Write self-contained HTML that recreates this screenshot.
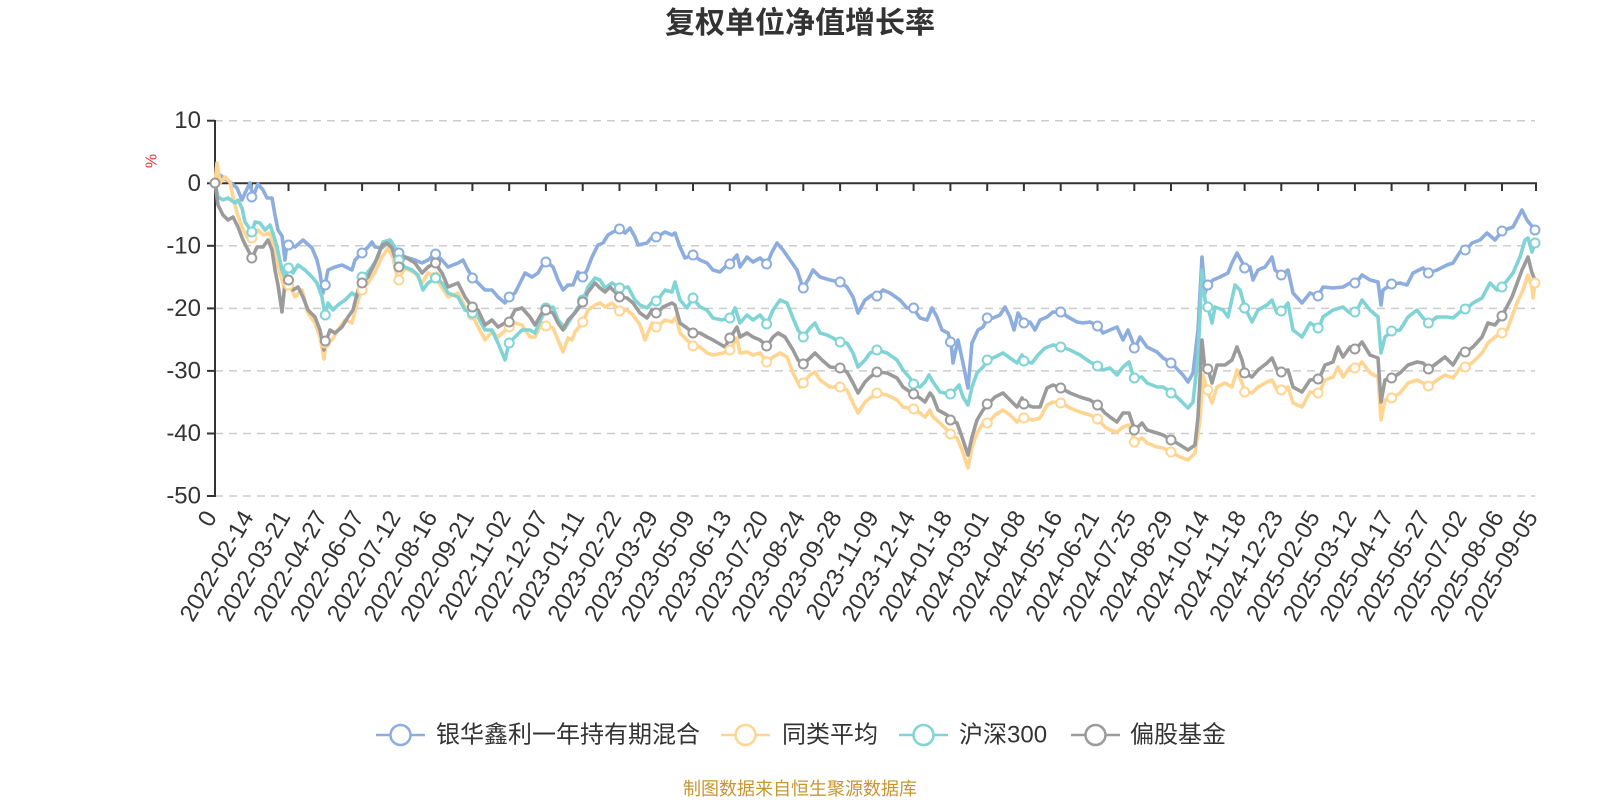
<!DOCTYPE html>
<html><head><meta charset="utf-8"><style>
html,body{margin:0;padding:0;background:#fff;}
svg{display:block;}
text{font-family:"Liberation Sans","Noto Sans CJK SC",sans-serif;}
</style></head><body>
<svg width="1600" height="800" viewBox="0 0 1600 800" xmlns="http://www.w3.org/2000/svg">
<rect width="1600" height="800" fill="#fff"/>
<text x="800" y="33" text-anchor="middle" font-size="30" font-weight="bold" fill="#333" style="font-family:'Noto Sans CJK SC','Liberation Sans',sans-serif">复权单位净值增长率</text>
<g stroke="#cccccc" stroke-width="1.5" stroke-dasharray="8,6">
<line x1="215" y1="120.7" x2="1535" y2="120.7"/>
<line x1="215" y1="245.8" x2="1535" y2="245.8"/>
<line x1="215" y1="308.4" x2="1535" y2="308.4"/>
<line x1="215" y1="370.9" x2="1535" y2="370.9"/>
<line x1="215" y1="433.5" x2="1535" y2="433.5"/>
<line x1="215" y1="496" x2="1535" y2="496"/>
</g>
<g fill="#333" font-size="24" text-anchor="end" dominant-baseline="central">
<text x="201" y="120.7">10</text>
<text x="201" y="183.3">0</text>
<text x="201" y="245.8">-10</text>
<text x="201" y="308.4">-20</text>
<text x="201" y="370.9">-30</text>
<text x="201" y="433.5">-40</text>
<text x="201" y="496">-50</text>
</g>
<text transform="translate(152,161) rotate(-90)" font-size="16" fill="#e53935" text-anchor="middle" dominant-baseline="central">%</text>
<g stroke="#333" stroke-width="2">
<line x1="215" y1="120" x2="215" y2="497"/>
<line x1="207" y1="120.7" x2="215" y2="120.7"/>
<line x1="207" y1="183.3" x2="215" y2="183.3"/>
<line x1="207" y1="245.8" x2="215" y2="245.8"/>
<line x1="207" y1="308.4" x2="215" y2="308.4"/>
<line x1="207" y1="370.9" x2="215" y2="370.9"/>
<line x1="207" y1="433.5" x2="215" y2="433.5"/>
<line x1="207" y1="496" x2="215" y2="496"/>
<line x1="214" y1="183.3" x2="1537" y2="183.3"/>
</g>
<g stroke="#333" stroke-width="2">
<line x1="251.8" y1="183" x2="251.8" y2="191"/><line x1="288.5" y1="183" x2="288.5" y2="191"/><line x1="325.3" y1="183" x2="325.3" y2="191"/><line x1="362.1" y1="183" x2="362.1" y2="191"/><line x1="398.9" y1="183" x2="398.9" y2="191"/><line x1="435.6" y1="183" x2="435.6" y2="191"/><line x1="472.4" y1="183" x2="472.4" y2="191"/><line x1="509.2" y1="183" x2="509.2" y2="191"/><line x1="545.9" y1="183" x2="545.9" y2="191"/><line x1="582.7" y1="183" x2="582.7" y2="191"/><line x1="619.5" y1="183" x2="619.5" y2="191"/><line x1="656.2" y1="183" x2="656.2" y2="191"/><line x1="693" y1="183" x2="693" y2="191"/><line x1="729.8" y1="183" x2="729.8" y2="191"/><line x1="766.6" y1="183" x2="766.6" y2="191"/><line x1="803.3" y1="183" x2="803.3" y2="191"/><line x1="840.1" y1="183" x2="840.1" y2="191"/><line x1="876.9" y1="183" x2="876.9" y2="191"/><line x1="913.6" y1="183" x2="913.6" y2="191"/><line x1="950.4" y1="183" x2="950.4" y2="191"/><line x1="987.2" y1="183" x2="987.2" y2="191"/><line x1="1023.9" y1="183" x2="1023.9" y2="191"/><line x1="1060.7" y1="183" x2="1060.7" y2="191"/><line x1="1097.5" y1="183" x2="1097.5" y2="191"/><line x1="1134.3" y1="183" x2="1134.3" y2="191"/><line x1="1171" y1="183" x2="1171" y2="191"/><line x1="1207.8" y1="183" x2="1207.8" y2="191"/><line x1="1244.6" y1="183" x2="1244.6" y2="191"/><line x1="1281.3" y1="183" x2="1281.3" y2="191"/><line x1="1318.1" y1="183" x2="1318.1" y2="191"/><line x1="1354.9" y1="183" x2="1354.9" y2="191"/><line x1="1391.6" y1="183" x2="1391.6" y2="191"/><line x1="1428.4" y1="183" x2="1428.4" y2="191"/><line x1="1465.2" y1="183" x2="1465.2" y2="191"/><line x1="1502" y1="183" x2="1502" y2="191"/><line x1="1536" y1="183" x2="1536" y2="191"/>
</g>
<g fill="#333" font-size="24" text-anchor="end" dominant-baseline="central">
<text transform="translate(211,513) rotate(-60)">0</text>
<text transform="translate(247.8,513) rotate(-60)">2022-02-14</text>
<text transform="translate(284.5,513) rotate(-60)">2022-03-21</text>
<text transform="translate(321.3,513) rotate(-60)">2022-04-27</text>
<text transform="translate(358.1,513) rotate(-60)">2022-06-07</text>
<text transform="translate(394.9,513) rotate(-60)">2022-07-12</text>
<text transform="translate(431.6,513) rotate(-60)">2022-08-16</text>
<text transform="translate(468.4,513) rotate(-60)">2022-09-21</text>
<text transform="translate(505.2,513) rotate(-60)">2022-11-02</text>
<text transform="translate(541.9,513) rotate(-60)">2022-12-07</text>
<text transform="translate(578.7,513) rotate(-60)">2023-01-11</text>
<text transform="translate(615.5,513) rotate(-60)">2023-02-22</text>
<text transform="translate(652.2,513) rotate(-60)">2023-03-29</text>
<text transform="translate(689,513) rotate(-60)">2023-05-09</text>
<text transform="translate(725.8,513) rotate(-60)">2023-06-13</text>
<text transform="translate(762.6,513) rotate(-60)">2023-07-20</text>
<text transform="translate(799.3,513) rotate(-60)">2023-08-24</text>
<text transform="translate(836.1,513) rotate(-60)">2023-09-28</text>
<text transform="translate(872.9,513) rotate(-60)">2023-11-09</text>
<text transform="translate(909.6,513) rotate(-60)">2023-12-14</text>
<text transform="translate(946.4,513) rotate(-60)">2024-01-18</text>
<text transform="translate(983.2,513) rotate(-60)">2024-03-01</text>
<text transform="translate(1019.9,513) rotate(-60)">2024-04-08</text>
<text transform="translate(1056.7,513) rotate(-60)">2024-05-16</text>
<text transform="translate(1093.5,513) rotate(-60)">2024-06-21</text>
<text transform="translate(1130.3,513) rotate(-60)">2024-07-25</text>
<text transform="translate(1167,513) rotate(-60)">2024-08-29</text>
<text transform="translate(1203.8,513) rotate(-60)">2024-10-14</text>
<text transform="translate(1240.6,513) rotate(-60)">2024-11-18</text>
<text transform="translate(1277.3,513) rotate(-60)">2024-12-23</text>
<text transform="translate(1314.1,513) rotate(-60)">2025-02-05</text>
<text transform="translate(1350.9,513) rotate(-60)">2025-03-12</text>
<text transform="translate(1387.6,513) rotate(-60)">2025-04-17</text>
<text transform="translate(1424.4,513) rotate(-60)">2025-05-27</text>
<text transform="translate(1461.2,513) rotate(-60)">2025-07-02</text>
<text transform="translate(1498,513) rotate(-60)">2025-08-06</text>
<text transform="translate(1532,513) rotate(-60)">2025-09-05</text>
</g>
<g fill="none" stroke-width="3.6" stroke-linejoin="round" stroke-linecap="round">
<polyline stroke="#8caddd" points="215,182 220,175 225,179 230,182 237,188 242,200 245,193 250,183 253,197 258,184 263,190 267,198 272,198 275,215 278,230 282,236 285,260 287,243 290,245 295,247 303,240 312,248 317,260 320,273 323,293 325,285 328,270 335,267 342,265 352,270 355,260 362,253 368,247 372,242 375,247 382,248 388,242 392,243 398,253 405,257 415,260 422,263 428,260 435,254 442,260 448,267 458,263 463,260 468,270 473,278 478,283 485,290 492,290 498,297 505,303 509,297 515,293 520,283 525,273 532,277 538,273 542,266 547,262 553,267 558,280 563,290 568,285 573,285 578,272 583,277 587,270 592,257 598,245 603,243 608,235 613,232 620,229 625,233 630,228 635,237 638,245 647,243 652,237 657,237 665,232 672,235 675,233 680,247 685,258 693,255 700,260 707,263 713,270 720,272 725,267 730,264 737,255 740,267 747,257 753,262 760,258 767,264 772,252 777,243 783,250 790,260 797,270 803,288 808,280 813,270 820,277 830,280 840,282 847,287 853,297 858,313 865,300 872,295 877,296 883,290 890,293 900,300 907,308 913,308 920,318 927,320 932,308 937,317 942,330 948,333 951,342 953,363 958,340 963,363 968,388 972,343 978,330 983,327 988,318 993,318 1000,315 1005,307 1010,317 1014,330 1018,313 1024,323 1030,322 1035,330 1040,320 1047,317 1053,312 1061,312 1068,317 1077,322 1083,323 1090,322 1098,326 1103,333 1110,330 1117,327 1123,340 1128,330 1135,348 1140,337 1147,347 1157,352 1163,358 1172,363 1178,370 1183,375 1188,382 1193,373 1198,330 1202,257 1205,293 1208,285 1213,280 1220,277 1228,273 1232,263 1237,253 1242,262 1245,268 1250,267 1253,280 1258,270 1265,267 1272,257 1275,270 1282,275 1288,270 1293,293 1302,303 1310,293 1318,296 1323,287 1333,288 1343,287 1350,283 1356,283 1362,275 1370,280 1378,282 1381,305 1383,290 1392,284 1400,283 1407,285 1413,273 1423,268 1429,273 1437,270 1447,265 1453,263 1460,252 1466,250 1472,243 1480,240 1487,233 1495,240 1502,231 1513,227 1522,210 1527,220 1535,230"/>
<polyline stroke="#ffd591" points="215,183 217,163 220,183 225,177 230,182 233,197 237,213 242,227 247,237 252,238 258,230 263,235 270,233 277,263 285,290 289,283 295,297 302,290 308,313 315,323 320,337 324,359 326,343 332,340 338,330 345,320 352,323 358,300 362,290 368,283 375,272 382,257 388,248 393,258 398,280 405,268 415,273 422,283 428,273 435,277 448,297 458,293 465,307 472,315 485,340 492,332 498,337 509,327 515,323 522,325 530,337 535,337 542,323 546,326 553,328 558,340 563,352 568,338 572,340 575,332 583,322 588,310 595,305 600,303 605,307 612,303 620,311 627,310 633,315 640,325 645,340 652,323 657,327 665,320 672,322 676,317 680,333 687,340 693,346 700,347 707,353 713,355 723,353 730,350 737,338 740,353 747,352 753,355 760,353 767,362 773,357 780,353 787,357 793,373 800,387 803,383 810,375 815,372 820,380 830,387 840,387 847,390 853,403 858,413 865,402 870,398 877,393 887,395 897,400 903,407 913,409 920,413 925,417 930,410 933,417 940,423 951,434 957,438 962,450 968,468 972,447 977,433 983,423 988,423 995,415 1003,410 1010,415 1017,422 1022,417 1024,418 1033,420 1040,418 1047,405 1053,402 1061,403 1070,408 1080,412 1090,415 1098,419 1105,427 1110,430 1117,432 1123,427 1129,425 1132,433 1135,442 1142,438 1147,443 1157,447 1163,448 1172,452 1180,457 1188,460 1195,453 1200,420 1203,375 1207,390 1212,403 1217,387 1225,383 1232,387 1237,370 1242,383 1245,392 1252,393 1258,387 1267,382 1272,380 1277,390 1282,390 1288,387 1293,403 1302,407 1310,392 1319,393 1325,380 1333,377 1338,367 1343,377 1350,367 1356,368 1362,362 1370,373 1378,377 1381,420 1385,400 1392,398 1400,393 1408,383 1417,380 1423,383 1429,386 1437,380 1445,375 1453,378 1460,368 1466,367 1473,362 1482,353 1488,343 1495,337 1502,333 1507,330 1517,303 1523,290 1528,275 1532,287 1533,298 1535,283"/>
<polyline stroke="#80d4d6" points="215,183 218,197 223,200 228,198 235,203 238,200 242,208 245,222 252,232 255,222 260,223 265,230 270,225 273,233 277,247 282,270 285,277 289,268 293,273 298,265 305,270 312,277 317,283 322,297 325,315 328,303 333,310 338,305 345,300 352,293 357,297 362,277 367,273 372,267 378,257 383,242 390,240 397,250 399,260 405,267 412,270 418,275 423,290 428,283 436,278 442,283 448,293 458,297 465,310 472,313 478,317 485,330 492,330 498,343 505,360 509,343 515,337 522,330 530,330 535,333 542,317 547,308 553,307 558,320 565,328 570,320 578,307 583,300 588,287 595,278 600,280 605,288 612,283 620,288 628,287 635,300 640,305 647,308 652,302 657,301 665,290 672,292 675,282 680,300 687,308 693,298 700,307 707,310 713,318 722,320 730,318 735,308 740,323 747,315 753,320 760,315 767,324 773,310 780,300 787,303 793,318 798,330 803,337 810,328 815,323 820,333 827,335 833,338 840,342 847,343 853,353 858,367 865,360 870,353 877,350 887,353 897,360 903,370 910,378 913,384 920,387 925,382 929,375 933,382 940,392 950,394 955,390 959,385 963,397 968,405 972,387 977,373 983,367 988,360 995,357 1003,353 1010,358 1017,363 1022,355 1024,361 1032,363 1038,355 1045,348 1053,345 1062,347 1070,350 1080,355 1090,362 1098,366 1103,370 1110,368 1117,375 1123,367 1129,362 1132,372 1135,378 1142,377 1147,383 1157,387 1163,387 1172,393 1178,398 1188,408 1193,402 1198,357 1202,270 1205,300 1208,307 1212,323 1215,307 1223,310 1228,317 1235,285 1240,290 1245,308 1252,322 1258,310 1267,305 1272,300 1277,313 1282,311 1288,303 1293,330 1302,337 1310,323 1319,328 1323,317 1333,310 1343,307 1350,313 1356,312 1362,300 1370,310 1378,317 1381,353 1385,337 1392,331 1400,330 1408,317 1417,310 1423,318 1429,323 1437,317 1447,317 1453,318 1460,312 1466,309 1473,303 1482,298 1490,283 1497,290 1502,287 1513,273 1520,257 1525,240 1528,238 1532,252 1535,243"/>
<polyline stroke="#9b9b9b" points="215,183 218,205 223,215 228,220 233,217 238,227 243,240 247,248 252,258 257,247 263,247 268,240 272,250 275,270 278,285 282,312 285,283 289,280 293,290 298,287 303,297 308,310 315,317 320,330 324,350 326,341 330,330 335,333 342,327 348,317 353,310 358,290 362,283 368,277 375,263 382,245 387,243 392,248 398,267 405,257 415,263 422,273 428,267 435,263 442,273 448,287 458,283 465,297 472,307 478,310 485,325 492,320 498,327 505,323 509,322 515,310 522,308 530,317 535,325 542,313 546,310 553,313 558,323 563,330 568,320 575,313 583,302 588,292 595,283 600,288 605,292 610,287 620,297 627,298 633,303 640,313 647,318 652,310 657,313 663,307 672,303 675,305 680,323 687,328 693,333 700,333 707,337 713,340 725,347 730,338 737,327 740,337 747,333 753,337 760,340 767,346 773,337 778,333 785,337 793,350 798,360 803,364 810,358 815,353 822,360 830,367 840,368 847,372 853,383 858,393 865,382 870,377 877,372 887,373 897,378 903,387 913,394 920,398 925,402 930,393 933,397 938,410 947,415 951,420 957,423 962,437 968,455 972,437 977,420 983,410 988,404 995,397 1003,393 1010,400 1017,407 1022,398 1024,404 1033,407 1040,407 1047,388 1053,385 1061,388 1070,393 1080,397 1090,400 1098,405 1105,413 1110,417 1117,422 1123,413 1129,413 1132,422 1135,430 1142,423 1147,430 1157,433 1163,435 1172,440 1180,445 1188,450 1195,445 1198,417 1202,340 1205,370 1208,369 1212,383 1217,365 1225,365 1232,360 1237,347 1242,360 1245,373 1252,377 1258,370 1267,363 1272,358 1277,370 1282,372 1288,370 1293,387 1302,392 1310,380 1319,379 1325,365 1333,362 1338,347 1343,357 1350,347 1356,349 1362,342 1370,355 1378,358 1381,402 1385,380 1392,378 1400,373 1408,365 1417,362 1423,363 1429,369 1437,363 1445,357 1453,365 1460,353 1466,352 1473,347 1482,337 1488,323 1495,325 1502,316 1512,297 1522,270 1528,257 1532,273 1535,280"/>
</g>
<g fill="#fff" stroke-width="2">
<g stroke="#8caddd">
<circle cx="251.8" cy="197" r="4.5"/><circle cx="288.5" cy="245" r="4.5"/><circle cx="325.3" cy="285" r="4.5"/><circle cx="362.1" cy="253" r="4.5"/><circle cx="398.9" cy="253" r="4.5"/><circle cx="435.6" cy="254" r="4.5"/><circle cx="472.4" cy="278" r="4.5"/><circle cx="509.2" cy="297" r="4.5"/><circle cx="545.9" cy="262" r="4.5"/><circle cx="582.7" cy="277" r="4.5"/><circle cx="619.5" cy="229" r="4.5"/><circle cx="656.2" cy="237" r="4.5"/><circle cx="693" cy="255" r="4.5"/><circle cx="729.8" cy="264" r="4.5"/><circle cx="766.6" cy="264" r="4.5"/><circle cx="803.3" cy="288" r="4.5"/><circle cx="840.1" cy="282" r="4.5"/><circle cx="876.9" cy="296" r="4.5"/><circle cx="913.6" cy="308" r="4.5"/><circle cx="950.4" cy="342" r="4.5"/><circle cx="987.2" cy="318" r="4.5"/><circle cx="1023.9" cy="323" r="4.5"/><circle cx="1060.7" cy="312" r="4.5"/><circle cx="1097.5" cy="326" r="4.5"/><circle cx="1134.3" cy="348" r="4.5"/><circle cx="1171" cy="363" r="4.5"/><circle cx="1207.8" cy="285" r="4.5"/><circle cx="1244.6" cy="268" r="4.5"/><circle cx="1281.3" cy="275" r="4.5"/><circle cx="1318.1" cy="296" r="4.5"/><circle cx="1354.9" cy="283" r="4.5"/><circle cx="1391.6" cy="284" r="4.5"/><circle cx="1428.4" cy="273" r="4.5"/><circle cx="1465.2" cy="250" r="4.5"/><circle cx="1502" cy="231" r="4.5"/><circle cx="1535" cy="230" r="4.5"/>
</g>
<g stroke="#ffd591">
<circle cx="251.8" cy="238" r="4.5"/><circle cx="288.5" cy="285" r="4.5"/><circle cx="325.3" cy="343" r="4.5"/><circle cx="362.1" cy="290" r="4.5"/><circle cx="398.9" cy="280" r="4.5"/><circle cx="435.6" cy="277" r="4.5"/><circle cx="472.4" cy="315" r="4.5"/><circle cx="509.2" cy="327" r="4.5"/><circle cx="545.9" cy="326" r="4.5"/><circle cx="582.7" cy="322" r="4.5"/><circle cx="619.5" cy="311" r="4.5"/><circle cx="656.2" cy="327" r="4.5"/><circle cx="693" cy="346" r="4.5"/><circle cx="729.8" cy="350" r="4.5"/><circle cx="766.6" cy="362" r="4.5"/><circle cx="803.3" cy="383" r="4.5"/><circle cx="840.1" cy="387" r="4.5"/><circle cx="876.9" cy="393" r="4.5"/><circle cx="913.6" cy="409" r="4.5"/><circle cx="950.4" cy="434" r="4.5"/><circle cx="987.2" cy="423" r="4.5"/><circle cx="1023.9" cy="418" r="4.5"/><circle cx="1060.7" cy="403" r="4.5"/><circle cx="1097.5" cy="419" r="4.5"/><circle cx="1134.3" cy="442" r="4.5"/><circle cx="1171" cy="452" r="4.5"/><circle cx="1207.8" cy="390" r="4.5"/><circle cx="1244.6" cy="392" r="4.5"/><circle cx="1281.3" cy="390" r="4.5"/><circle cx="1318.1" cy="393" r="4.5"/><circle cx="1354.9" cy="368" r="4.5"/><circle cx="1391.6" cy="398" r="4.5"/><circle cx="1428.4" cy="386" r="4.5"/><circle cx="1465.2" cy="367" r="4.5"/><circle cx="1502" cy="333" r="4.5"/><circle cx="1535" cy="283" r="4.5"/>
</g>
<g stroke="#80d4d6">
<circle cx="251.8" cy="232" r="4.5"/><circle cx="288.5" cy="268" r="4.5"/><circle cx="325.3" cy="315" r="4.5"/><circle cx="362.1" cy="277" r="4.5"/><circle cx="398.9" cy="260" r="4.5"/><circle cx="435.6" cy="278" r="4.5"/><circle cx="472.4" cy="313" r="4.5"/><circle cx="509.2" cy="343" r="4.5"/><circle cx="545.9" cy="308" r="4.5"/><circle cx="582.7" cy="300" r="4.5"/><circle cx="619.5" cy="288" r="4.5"/><circle cx="656.2" cy="301" r="4.5"/><circle cx="693" cy="298" r="4.5"/><circle cx="729.8" cy="318" r="4.5"/><circle cx="766.6" cy="324" r="4.5"/><circle cx="803.3" cy="337" r="4.5"/><circle cx="840.1" cy="342" r="4.5"/><circle cx="876.9" cy="350" r="4.5"/><circle cx="913.6" cy="384" r="4.5"/><circle cx="950.4" cy="394" r="4.5"/><circle cx="987.2" cy="360" r="4.5"/><circle cx="1023.9" cy="361" r="4.5"/><circle cx="1060.7" cy="347" r="4.5"/><circle cx="1097.5" cy="366" r="4.5"/><circle cx="1134.3" cy="378" r="4.5"/><circle cx="1171" cy="393" r="4.5"/><circle cx="1207.8" cy="307" r="4.5"/><circle cx="1244.6" cy="308" r="4.5"/><circle cx="1281.3" cy="311" r="4.5"/><circle cx="1318.1" cy="328" r="4.5"/><circle cx="1354.9" cy="312" r="4.5"/><circle cx="1391.6" cy="331" r="4.5"/><circle cx="1428.4" cy="323" r="4.5"/><circle cx="1465.2" cy="309" r="4.5"/><circle cx="1502" cy="287" r="4.5"/><circle cx="1535" cy="243" r="4.5"/>
</g>
<g stroke="#9b9b9b">
<circle cx="215" cy="183" r="4.5"/><circle cx="251.8" cy="258" r="4.5"/><circle cx="288.5" cy="280" r="4.5"/><circle cx="325.3" cy="341" r="4.5"/><circle cx="362.1" cy="283" r="4.5"/><circle cx="398.9" cy="267" r="4.5"/><circle cx="435.6" cy="263" r="4.5"/><circle cx="472.4" cy="307" r="4.5"/><circle cx="509.2" cy="322" r="4.5"/><circle cx="545.9" cy="310" r="4.5"/><circle cx="582.7" cy="302" r="4.5"/><circle cx="619.5" cy="297" r="4.5"/><circle cx="656.2" cy="313" r="4.5"/><circle cx="693" cy="333" r="4.5"/><circle cx="729.8" cy="338" r="4.5"/><circle cx="766.6" cy="346" r="4.5"/><circle cx="803.3" cy="364" r="4.5"/><circle cx="840.1" cy="368" r="4.5"/><circle cx="876.9" cy="372" r="4.5"/><circle cx="913.6" cy="394" r="4.5"/><circle cx="950.4" cy="420" r="4.5"/><circle cx="987.2" cy="404" r="4.5"/><circle cx="1023.9" cy="404" r="4.5"/><circle cx="1060.7" cy="388" r="4.5"/><circle cx="1097.5" cy="405" r="4.5"/><circle cx="1134.3" cy="430" r="4.5"/><circle cx="1171" cy="440" r="4.5"/><circle cx="1207.8" cy="369" r="4.5"/><circle cx="1244.6" cy="373" r="4.5"/><circle cx="1281.3" cy="372" r="4.5"/><circle cx="1318.1" cy="379" r="4.5"/><circle cx="1354.9" cy="349" r="4.5"/><circle cx="1391.6" cy="378" r="4.5"/><circle cx="1428.4" cy="369" r="4.5"/><circle cx="1465.2" cy="352" r="4.5"/><circle cx="1502" cy="316" r="4.5"/>
</g>
</g>
<g stroke-width="2.5" fill="#fff">
<line x1="376" y1="735" x2="425" y2="735" stroke="#8caddd"/><circle cx="400.5" cy="735" r="10" stroke="#8caddd"/>
<line x1="721" y1="735" x2="770" y2="735" stroke="#ffd591"/><circle cx="745.5" cy="735" r="10" stroke="#ffd591"/>
<line x1="899" y1="735" x2="948" y2="735" stroke="#80d4d6"/><circle cx="923.5" cy="735" r="10" stroke="#80d4d6"/>
<line x1="1071" y1="735" x2="1120" y2="735" stroke="#9b9b9b"/><circle cx="1095.5" cy="735" r="10" stroke="#9b9b9b"/>
</g>
<g fill="#333" font-size="24" dominant-baseline="central">
<text x="436" y="735">银华鑫利一年持有期混合</text>
<text x="782" y="735">同类平均</text>
<text x="959" y="735">沪深300</text>
<text x="1130" y="735">偏股基金</text>
</g>
<text x="800" y="789" text-anchor="middle" dominant-baseline="central" font-size="18" fill="#c8962e">制图数据来自恒生聚源数据库</text>
</svg>
</body></html>
